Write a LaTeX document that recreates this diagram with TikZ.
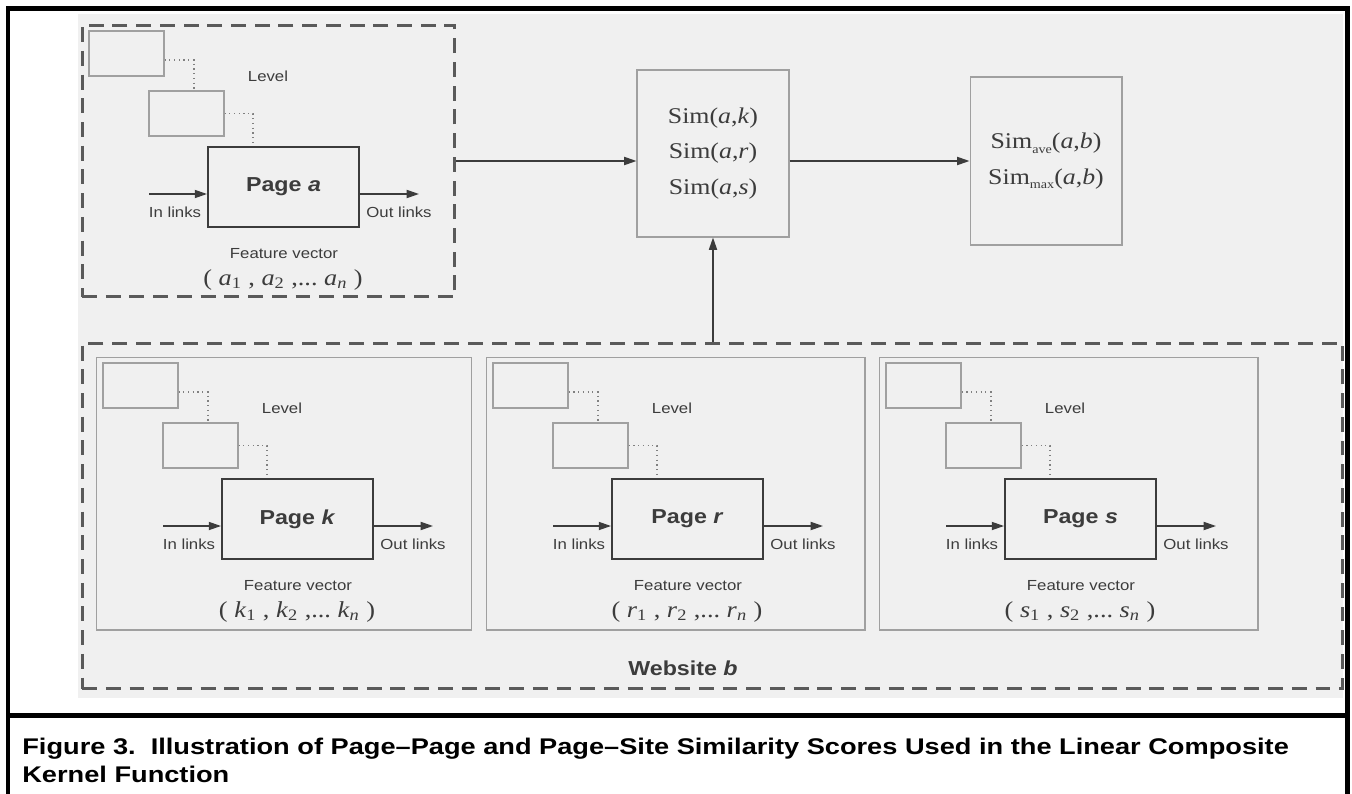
\documentclass[tikz,border=0pt]{standalone}
\usepackage{fontspec}
\setmainfont{Liberation Serif}[FakeStretch=1.15]
\setsansfont{Liberation Sans}[FakeStretch=1.15]
\newfontfamily\capfont{Liberation Sans}[FakeStretch=1.2]
\usetikzlibrary{arrows.meta}

\definecolor{framegray}{HTML}{5A5A5A}
\definecolor{linegray}{HTML}{A0A0A0}
\definecolor{inkgray}{HTML}{3C3C3C}
\definecolor{paper}{HTML}{F0F0F0}

\tikzset{
  groupbox/.style={draw=framegray, line width=1.7pt, dash pattern=on 8.5pt off 5pt, inner sep=0pt},
  panelbox/.style={draw=linegray, line width=0.6pt, inner sep=0pt},
  levelbox/.style={draw=linegray, line width=0.6pt, minimum width=1.5cm, minimum height=0.9cm, inner sep=0pt},
  pagebox/.style={draw=inkgray, line width=1.1pt, minimum width=3.02cm, minimum height=1.6cm, inner sep=0pt,
    font=\sffamily\bfseries\fontsize{11.5}{13}\selectfont, text=inkgray},
  simbox/.style={draw=linegray, line width=0.6pt, minimum width=3.04cm, inner sep=0pt, align=center,
    font=\fontsize{12.8}{20.4}\selectfont, text=inkgray},
  tag/.style={font=\sffamily\fontsize{8.3}{10}\selectfont, text=inkgray, inner sep=0pt},
  vec/.style={font=\fontsize{13}{15}\selectfont, text=inkgray, inner sep=0pt},
  link/.style={draw=inkgray, line width=0.85pt, -{Triangle[length=7pt,width=4.6pt]}},
  levellink/.style={draw=gray, line width=0.7pt, dotted},
}

\newcommand{\scoresub}[1]{\raisebox{-0.45ex}{\fontsize{7}{8}\selectfont #1}}

% one page with its level boxes, links and feature vector
\newcommand{\pagegroup}[2]{%
  \node[levelbox] (#1-lvla) at (44.5,28.5) {};
  \node[levelbox] (#1-lvlb) at (104.5,88.5) {};
  \node[pagebox] (#1-page) at (201.5,162) {Page \textit{#2}};
  \node[tag] (#1-level) at (186,51) {Level};
  \coordinate (#1-in) at (67,169);
  \coordinate (#1-out) at (337,169);
  \draw[levellink] ([yshift=-0.13cm]#1-lvla.east) -| ([xshift=0.15cm]#1-lvlb.north);
  \draw[levellink] (#1-lvlb.east) -| ([xshift=-0.61cm]#1-page.north);
  \draw[link] (#1-in) -- (#1-in -| #1-page.west);
  \draw[link] (#1-out -| #1-page.east) -- (#1-out);
  \node[tag] (#1-inlabel) at (93,187) {In links};
  \node[tag] (#1-outlabel) at (317,187) {Out links};
  \node[tag] (#1-feature) at (202,229) {Feature vector};
  \node[vec] (#1-vector) at (201,255) {( \textit{#2}\textsubscript{1} , \textit{#2}\textsubscript{2} ,...\ \textit{#2}\textsubscript{\textit{n}} )};
}

\begin{document}
\begin{tikzpicture}[x=0.02cm, y=-0.02cm]
    \useasboundingbox (0,0) rectangle (1352,794);
    \fill[paper] (78,14) rectangle (1343,698);
    \draw[line width=0.1cm] (8,794) -- (8,9) -- (1347,9) -- (1347,794);
    \draw[line width=0.1cm] (8,715) -- (1347,715);

    % page a
    \node[groupbox, minimum width=7.46cm, minimum height=5.44cm] (boxa) at (268.5,161) {};
    \begin{scope}[shift={(82,25)}]
        \pagegroup{a}{a}
    \end{scope}

    % website b
    \node[groupbox, minimum width=25.22cm, minimum height=6.92cm] (siteb) at (712.5,516) {};
    \node[panelbox, minimum width=7.52cm, minimum height=5.46cm] (panelk) at (284,493.5) {};
    \node[panelbox, minimum width=7.58cm, minimum height=5.46cm] (panelr) at (675.5,493.5) {};
    \node[panelbox, minimum width=7.58cm, minimum height=5.46cm] (panels) at (1068.5,493.5) {};
    \foreach \lt/\ox in {k/96, r/486, s/879} {
        \begin{scope}[shift={(\ox,357)}]
            \pagegroup{\lt}{\lt}
        \end{scope}
    }
    \node[tag, font=\sffamily\bfseries\fontsize{11.5}{13}\selectfont] (webb) at (683,668) {Website \textit{b}};

    % scores
    \node[simbox, minimum height=3.34cm] (sim) at (713,153.5) {Sim(\textit{a},\textit{k})\\Sim(\textit{a},\textit{r})\\Sim(\textit{a},\textit{s})};
    \node[simbox, minimum height=3.36cm] (result) at (1046,161) {Sim\scoresub{ave}(\textit{a},\textit{b})\\Sim\scoresub{max}(\textit{a},\textit{b})};
    \draw[link] (boxa.east) -- (boxa.east -| sim.west);
    \draw[link] (sim.east |- result.west) -- (result.west);
    \draw[link] (siteb.north -| sim.south) -- (sim.south);

    \node[anchor=north west, align=left, inner sep=0pt, font=\capfont\bfseries\fontsize{12.9}{16}\selectfont] (caption) at (22,738)
        {Figure 3.\ \ Illustration of Page–Page and Page–Site Similarity Scores Used in the Linear Composite\\Kernel Function};
\end{tikzpicture}
\end{document}
